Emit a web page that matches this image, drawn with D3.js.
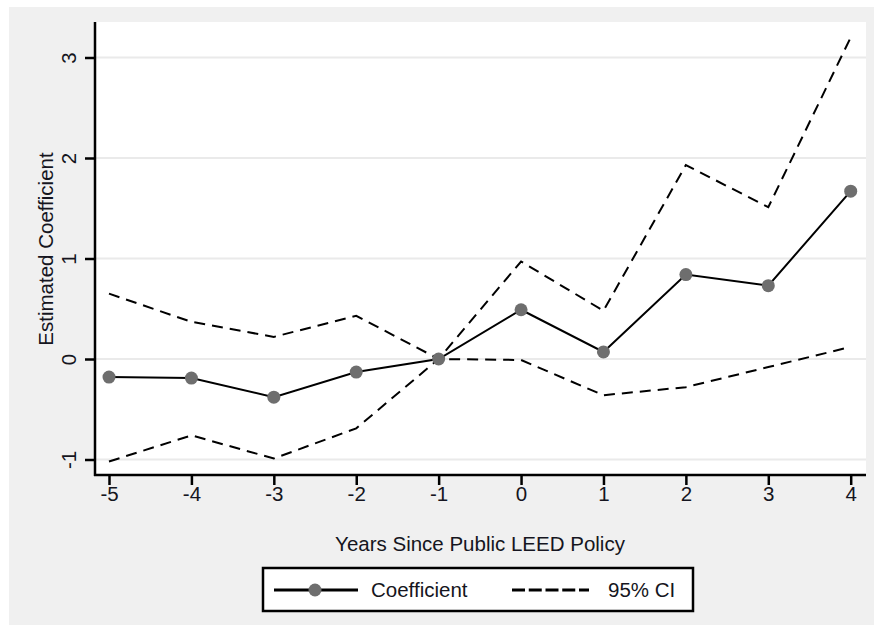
<!DOCTYPE html>
<html>
<head>
<meta charset="utf-8">
<script src="https://cdn.jsdelivr.net/npm/d3@7"></script>
<style>
  html, body { margin: 0; padding: 0; background: #ffffff; }
  svg { display: block; font-family: "Liberation Sans", Arial, sans-serif; }
</style>
</head>
<body>
<svg id="chart" width="874" height="632"></svg>
<script>
// Event-study estimates: years relative to adoption of a public LEED policy
const years = [-5, -4, -3, -2, -1, 0, 1, 2, 3, 4];
const coefficient = [-0.18, -0.19, -0.38, -0.13, 0.00, 0.49, 0.07, 0.84, 0.73, 1.67];
const ciUpper = [0.65, 0.37, 0.22, 0.43, 0.00, 0.97, 0.48, 1.93, 1.51, 3.20];
const ciLower = [-1.02, -0.76, -0.99, -0.69, 0.00, -0.01, -0.36, -0.28, -0.08, 0.12];
const yTicks = [-1, 0, 1, 2, 3];
const xTicks = years;
const xTitle = "Years Since Public LEED Policy";
const yTitle = "Estimated Coefficient";
const legendLabels = ["Coefficient", "95% CI"];

const svg = d3.select("#chart");
const W = 874, H = 632;
const FS = "20.5px";
const textColor = "#151520";

// graph region background
svg.append("rect").attr("x", 9).attr("y", 7).attr("width", W - 9).attr("height", H - 14)
  .attr("fill", "#f0f0f0");

const plot = { left: 95, right: 866, top: 22, bottom: 475 };

const x = d3.scaleLinear().domain([-5, 4]).range([109, 850.7]);
const y = d3.scaleLinear().domain([-1, 3]).range([459.5, 57.5]);

// plot region
svg.append("rect").attr("x", plot.left).attr("y", plot.top)
  .attr("width", plot.right - plot.left).attr("height", plot.bottom - plot.top)
  .attr("fill", "#ffffff");

// horizontal grid lines
svg.append("g").selectAll("line").data(yTicks).join("line")
  .attr("x1", plot.left).attr("x2", plot.right)
  .attr("y1", d => y(d)).attr("y2", d => y(d))
  .attr("stroke", "#eaeaea").attr("stroke-width", 2);

const signed = d => d < 0 ? "-" + Math.abs(d) : String(d);

// y axis
const yAxis = svg.append("g").attr("transform", `translate(${plot.left},0)`)
  .call(d3.axisLeft(y).tickValues(yTicks).tickSize(10).tickFormat(signed));
yAxis.select(".domain").attr("d", `M0,${plot.top}V${plot.bottom + 1}`)
  .attr("stroke", "#000").attr("stroke-width", 2.5);
yAxis.selectAll(".tick line").attr("stroke", "#000").attr("stroke-width", 2.5);
yAxis.selectAll(".tick text")
  .attr("x", null).attr("dy", null)
  .attr("transform", "translate(-26.5,0) rotate(-90)")
  .attr("text-anchor", "middle").attr("dominant-baseline", "central")
  .style("font-size", FS).attr("fill", textColor);

// x axis
const xAxis = svg.append("g").attr("transform", `translate(0,${plot.bottom})`)
  .call(d3.axisBottom(x).tickValues(xTicks).tickSize(10).tickFormat(signed));
xAxis.select(".domain").attr("d", `M${plot.left - 1},0H${plot.right}`)
  .attr("stroke", "#000").attr("stroke-width", 2.5);
xAxis.selectAll(".tick line").attr("stroke", "#000").attr("stroke-width", 2.5);
xAxis.selectAll(".tick text").attr("y", 26).attr("dy", null)
  .style("font-size", FS).attr("fill", textColor);
svg.selectAll(".domain").attr("fill", "none");

// axis titles
svg.append("text").attr("x", 480).attr("y", 551).attr("text-anchor", "middle")
  .style("font-size", FS).attr("fill", textColor).text(xTitle);
svg.append("text").attr("transform", "translate(52.5,249) rotate(-90)")
  .attr("text-anchor", "middle").style("font-size", FS).attr("fill", textColor).text(yTitle);

const line = d3.line().x((d, i) => x(years[i])).y(d => y(d));
const dash = "11,7";

svg.append("path").datum(ciUpper).attr("d", line)
  .attr("fill", "none").attr("stroke", "#000").attr("stroke-width", 2).attr("stroke-dasharray", dash);
svg.append("path").datum(ciLower).attr("d", line)
  .attr("fill", "none").attr("stroke", "#000").attr("stroke-width", 2).attr("stroke-dasharray", dash);
svg.append("path").datum(coefficient).attr("d", line)
  .attr("fill", "none").attr("stroke", "#000").attr("stroke-width", 2);
svg.append("g").selectAll("circle").data(coefficient).join("circle")
  .attr("cx", (d, i) => x(years[i])).attr("cy", d => y(d)).attr("r", 6.5)
  .attr("fill", "#6e6e6e");

// legend
const lg = svg.append("g");
lg.append("rect").attr("x", 263).attr("y", 568).attr("width", 430).attr("height", 43)
  .attr("fill", "#fff").attr("stroke", "#000").attr("stroke-width", 2.5);
lg.append("line").attr("x1", 274).attr("x2", 358).attr("y1", 590).attr("y2", 590)
  .attr("stroke", "#000").attr("stroke-width", 3);
lg.append("circle").attr("cx", 315).attr("cy", 590).attr("r", 6.5).attr("fill", "#6e6e6e");
lg.append("text").attr("x", 371).attr("y", 597).style("font-size", FS).attr("fill", textColor)
  .text(legendLabels[0]);
lg.append("line").attr("x1", 512).attr("x2", 589).attr("y1", 590).attr("y2", 590)
  .attr("stroke", "#000").attr("stroke-width", 3).attr("stroke-dasharray", "13,3.75");
lg.append("text").attr("x", 608).attr("y", 597).style("font-size", FS).attr("fill", textColor)
  .text(legendLabels[1]);
</script>
</body>
</html>
